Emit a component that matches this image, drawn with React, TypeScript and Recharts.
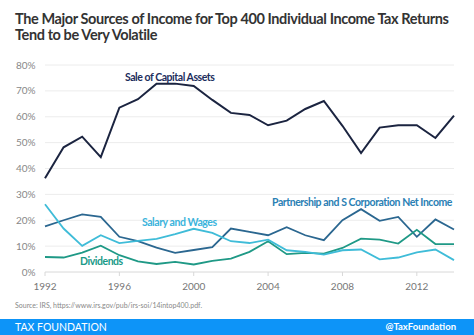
import { CartesianGrid, Line, LineChart, XAxis, YAxis } from "recharts";

const years = [1992, 1993, 1994, 1995, 1996, 1997, 1998, 1999, 2000, 2001, 2002, 2003, 2004, 2005, 2006, 2007, 2008, 2009, 2010, 2011, 2012, 2013, 2014];
const capitalAssets = [36.2, 48.2, 52.3, 44.4, 63.5, 66.8, 72.8, 72.8, 71.9, 66.5, 61.5, 60.7, 56.7, 58.5, 63, 66.1, 56.5, 46, 55.8, 56.7, 56.7, 51.8, 60.4];
const partnership = [17.6, 20, 22.3, 21.3, 13.6, 11.9, 9.4, 7.4, 8.5, 9.6, 16.8, 15.5, 14.2, 17.3, 14.2, 12.3, 20, 24.3, 19.8, 21.3, 13.6, 20.3, 16.4];
const salaryWages = [26.2, 16.8, 10.1, 14.2, 11.2, 12, 12.8, 14.6, 16.7, 15.1, 11.9, 11.2, 12.5, 8.4, 7.8, 6.7, 8.4, 8.7, 4.9, 5.6, 7.6, 8.7, 4.6];
const dividends = [5.8, 5.6, 7.5, 10.2, 6.5, 4.1, 3.1, 3.9, 2.9, 4.3, 5.2, 7.8, 11.9, 6.9, 7.4, 7.1, 9.3, 12.9, 12.5, 11, 16.3, 10.8, 10.8];
const xTicks = [1992, 1996, 2000, 2004, 2008, 2012];
const yTicks = [0, 10, 20, 30, 40, 50, 60, 70, 80];

const data = years.map((year, i) => ({
  year,
  capital: capitalAssets[i],
  partnership: partnership[i],
  salary: salaryWages[i],
  dividends: dividends[i],
}));

const font = "Lato, 'Open Sans', sans-serif";

function SeriesLabel({ text, x, y, color }: { text: string; x: number; y: number; color: string }) {
  return (
    <div style={{ position: "absolute", left: x, top: y, color, fontSize: 10.5, fontWeight: 700, lineHeight: "12px", whiteSpace: "nowrap", letterSpacing: -0.45 }}>
      {text}
    </div>
  );
}

export default function App() {
  return (
    <div style={{ position: "absolute", left: 0, top: 0, width: 474, height: 335, background: "#fff", fontFamily: font, overflow: "hidden" }}>
      <div style={{ position: "absolute", left: 15, top: 11, color: "#333", fontSize: 14.5, fontWeight: 700, lineHeight: "16px", letterSpacing: -0.4, whiteSpace: "nowrap" }}>
        <div>The Major Sources of Income for Top 400 Individual Income Tax Returns</div>
        <div>Tend to be Very Volatile</div>
      </div>

      <div style={{ position: "absolute", left: 0, top: 0 }}>
        <LineChart width={474} height={300} data={data} margin={{ top: 65, right: 20, bottom: 0, left: 0 }}>
          <CartesianGrid stroke="#ececec" vertical={false} />
          <XAxis
            dataKey="year"
            type="number"
            domain={[1992, 2014]}
            ticks={xTicks}
            height={28}
            axisLine={{ stroke: "#e2e2e2" }}
            tickLine={{ stroke: "#d8d8d8" }}
            tickSize={4}
            tickMargin={7}
            tick={{ fill: "#777", fontSize: 10, fontFamily: font }}
          />
          <YAxis
            domain={[0, 80]}
            ticks={yTicks}
            width={45}
            axisLine={false}
            tickLine={false}
            tickMargin={3.5}
            tickFormatter={(v) => `${v}%`}
            tick={{ fill: "#888", fontSize: 10, fontFamily: font }}
          />
          <Line dataKey="capital" stroke="#1b2440" strokeWidth={2} dot={false} isAnimationActive={false} />
          <Line dataKey="partnership" stroke="#2b6790" strokeWidth={1.8} dot={false} isAnimationActive={false} />
          <Line dataKey="dividends" stroke="#1f9986" strokeWidth={1.8} dot={false} isAnimationActive={false} />
          <Line dataKey="salary" stroke="#3fbcd8" strokeWidth={1.8} dot={false} isAnimationActive={false} />
        </LineChart>
      </div>

      <SeriesLabel text="Sale of Capital Assets" x={125} y={71} color="#1c2d5c" />
      <SeriesLabel text="Salary and Wages" x={142} y={216} color="#3ab4dc" />
      <SeriesLabel text="Dividends" x={80} y={255} color="#1a9a88" />
      <SeriesLabel text="Partnership and S Corporation Net Income" x={272} y={196} color="#2a80b4" />

      <div style={{ position: "absolute", left: 15, top: 301, color: "#888", fontSize: 7, whiteSpace: "nowrap" }}>
        Source: IRS, https://www.irs.gov/pub/irs-soi/14intop400.pdf.
      </div>

      <div style={{ position: "absolute", left: 0, top: 319, width: 474, height: 16, background: "#0d94f8", color: "#fff" }}>
        <div style={{ position: "absolute", left: 15, top: 2, fontSize: 10.5, lineHeight: "12px", whiteSpace: "nowrap" }}>TAX FOUNDATION</div>
        <div style={{ position: "absolute", right: 18, top: 2, fontSize: 9.5, fontWeight: 700, lineHeight: "12px", whiteSpace: "nowrap" }}>@TaxFoundation</div>
      </div>
    </div>
  );
}
